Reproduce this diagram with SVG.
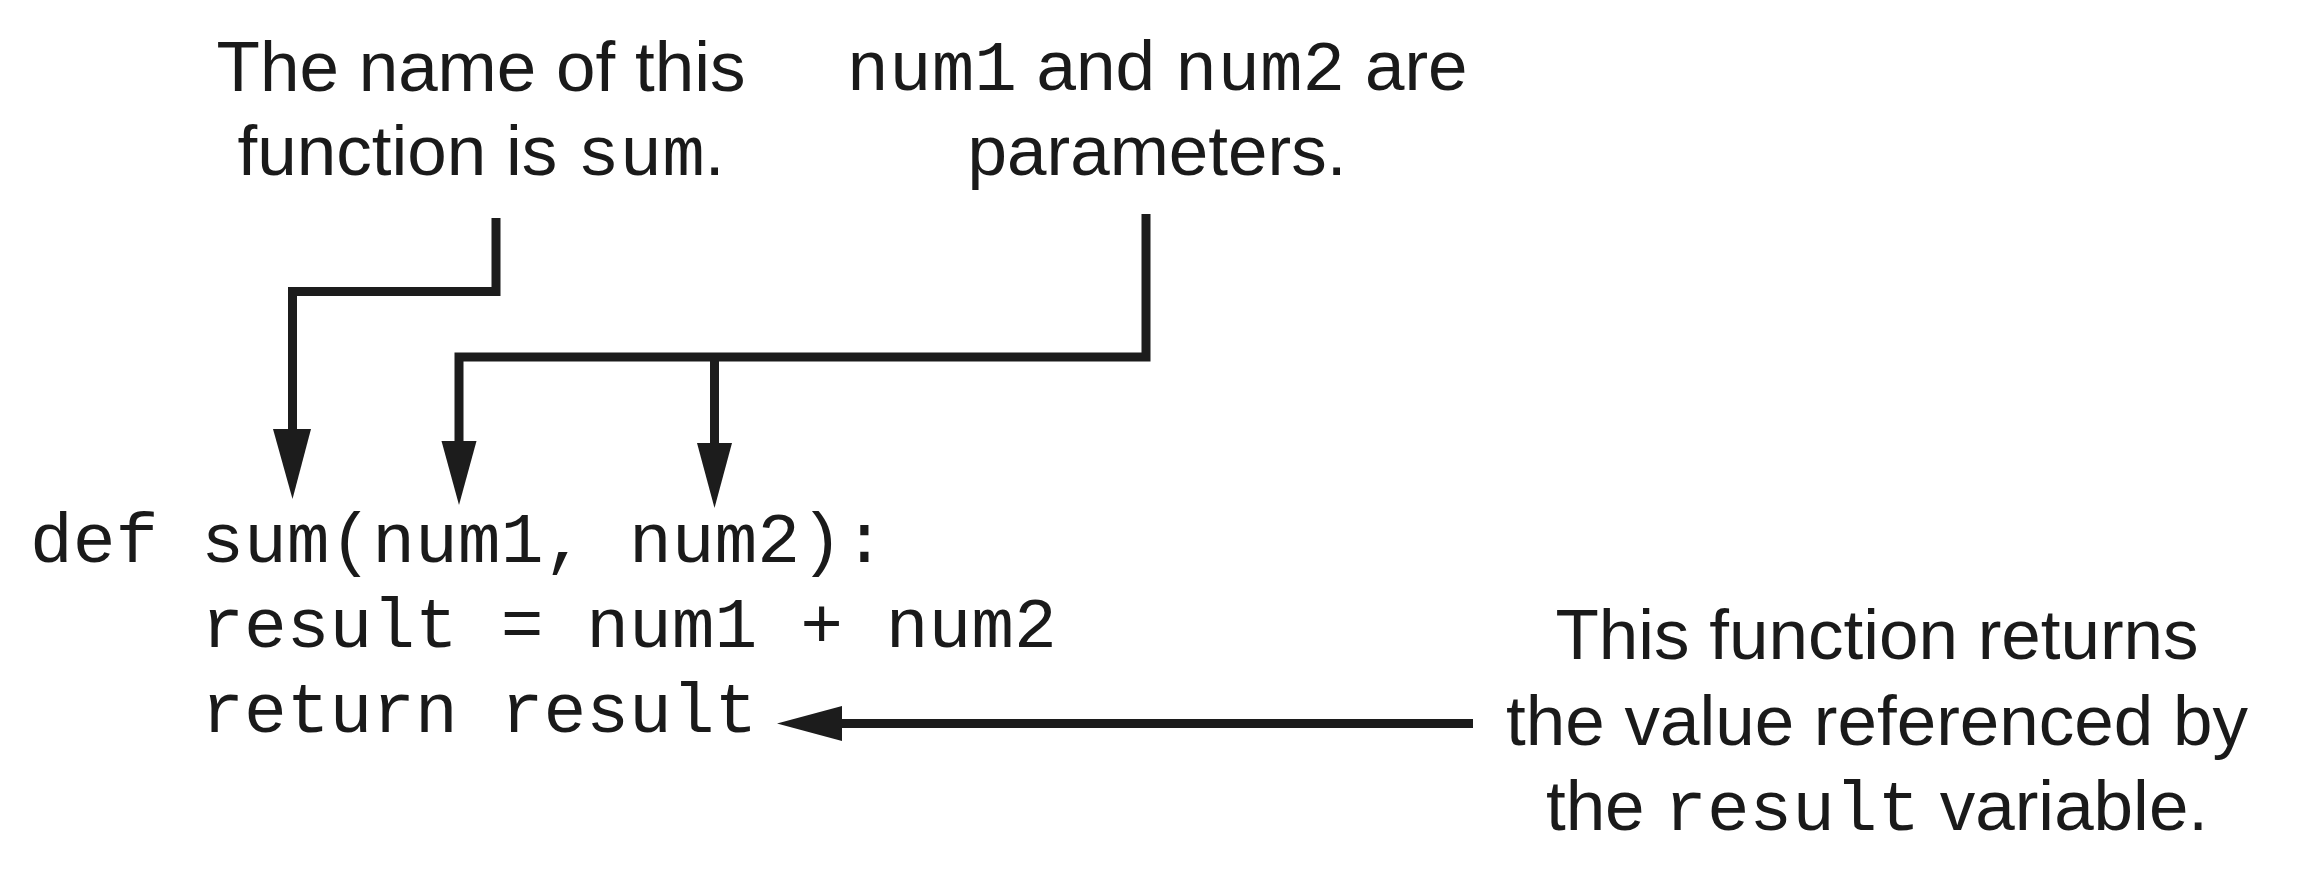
<svg xmlns="http://www.w3.org/2000/svg" width="2298" height="888" viewBox="0 0 2298 888">
  <style>
    .lbl { font-family: "Liberation Sans", Arial, sans-serif; font-size: 71px; fill: #1a1a1a; text-anchor: middle; }
    .mono { font-family: "Liberation Mono", "Courier New", monospace; }
    .code { font-family: "Liberation Mono", "Courier New", monospace; font-size: 71.3px; fill: #1a1a1a; }
    .wire { fill: none; stroke: #1c1c1c; stroke-width: 9; stroke-linejoin: miter; stroke-linecap: butt; }
    .head { fill: #1c1c1c; }
  </style>
  <rect width="2298" height="888" fill="#ffffff"/>

  <g id="label-name">
    <text class="lbl" x="481" y="91">The name of this</text>
    <text class="lbl" x="481" y="175">function is <tspan class="mono">sum</tspan>.</text>
  </g>

  <g id="label-params">
    <text class="lbl" x="1157" y="90"><tspan class="mono">num1</tspan> and <tspan class="mono">num2</tspan> are</text>
    <text class="lbl" x="1157" y="175">parameters.</text>
  </g>

  <g id="label-return">
    <text class="lbl" x="1877" y="659">This function returns</text>
    <text class="lbl" x="1877" y="745">the value referenced by</text>
    <text class="lbl" x="1877" y="830">the <tspan class="mono">result</tspan> variable.</text>
  </g>

  <g id="code">
    <text class="code" x="30" y="562" xml:space="preserve">def sum(num1, num2):</text>
    <text class="code" x="30" y="647" xml:space="preserve">    result = num1 + num2</text>
    <text class="code" x="30" y="732" xml:space="preserve">    return result</text>
  </g>

  <g id="connectors">
    <path class="wire" d="M496,218 V291.5 H292.5 V432"/>
    <polygon class="head" points="273,429 311,429 292.5,499"/>

    <path class="wire" d="M1146,214 V357 H459 V444"/>
    <polygon class="head" points="441.5,441 476.5,441 459,505"/>
    <path class="wire" d="M714.5,357 V446"/>
    <polygon class="head" points="697,443 732,443 714.5,508"/>

    <path class="wire" d="M1473,723.5 H838"/>
    <polygon class="head" points="842,706 842,741 777,723.5"/>
  </g>
</svg>
